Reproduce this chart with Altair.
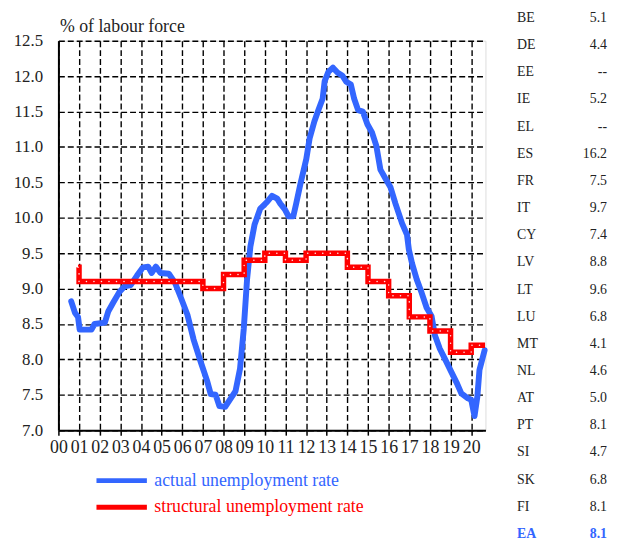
import altair as alt
import pandas as pd

# ---- data (x = years since 2000, ticks labelled 00..20)
act_t = [0.62, 0.80, 0.95, 1.03, 1.60, 1.75, 2.25, 2.42, 2.65, 2.95, 3.20, 3.50, 3.80, 4.10,
         4.35, 4.52, 4.72, 4.95, 5.35, 5.65, 5.95, 6.25, 6.55, 6.90, 7.20, 7.38, 7.62, 7.80,
         8.08, 8.35, 8.58, 8.80, 8.98, 9.14, 9.30, 9.50, 9.78, 10.10, 10.35, 10.60, 10.75,
         10.97, 11.15, 11.38, 11.52, 11.72, 12.01, 12.17, 12.40, 12.57, 12.80, 12.90, 13.08,
         13.30, 13.52, 13.75, 13.95, 14.17, 14.33, 14.52, 14.75, 14.97, 15.20, 15.40, 15.60,
         15.85, 16.09, 16.33, 16.65, 16.89, 16.98, 17.13, 17.36, 17.60, 17.84, 18.08, 18.24,
         18.48, 18.72, 19.04, 19.28, 19.52, 19.84, 20.00, 20.16, 20.30, 20.40, 20.65]
act_v = [8.82, 8.66, 8.60, 8.42, 8.42, 8.50, 8.52, 8.68, 8.80, 8.95, 9.03, 9.05, 9.18, 9.30,
         9.31, 9.22, 9.31, 9.22, 9.21, 9.08, 8.86, 8.63, 8.28, 7.96, 7.70, 7.51, 7.50, 7.34,
         7.33, 7.45, 7.55, 7.87, 8.43, 9.13, 9.59, 9.90, 10.13, 10.22, 10.31, 10.27, 10.20,
         10.12, 10.02, 10.02, 10.20, 10.47, 10.83, 11.12, 11.36, 11.50, 11.68, 11.93, 12.06,
         12.12, 12.05, 12.01, 11.92, 11.88, 11.68, 11.52, 11.50, 11.32, 11.20, 11.02, 10.68,
         10.55, 10.43, 10.20, 9.92, 9.76, 9.55, 9.36, 9.13, 8.94, 8.73, 8.61, 8.34,
         8.15, 8.01, 7.82, 7.68, 7.52, 7.45, 7.43, 7.20, 7.48, 7.85, 8.13]

str_t = [0.95, 1, 2, 3, 4, 5, 6, 7, 8, 9, 10, 11, 12, 13, 14, 15, 16, 17, 18, 19, 20, 20.67]
str_v = [9.3, 9.1, 9.1, 9.1, 9.1, 9.1, 9.1, 9.0, 9.2, 9.4, 9.5, 9.4, 9.5, 9.5, 9.3, 9.1,
         8.9, 8.6, 8.4, 8.1, 8.2, 8.2]

countries = ["BE", "DE", "EE", "IE", "EL", "ES", "FR", "IT", "CY", "LV",
             "LT", "LU", "MT", "NL", "AT", "PT", "SI", "SK", "FI", "EA"]
rates = ["5.1", "4.4", "--", "5.2", "--", "16.2", "7.5", "9.7", "7.4", "8.8",
         "9.6", "6.8", "4.1", "4.6", "5.0", "8.1", "4.7", "6.8", "8.1", "8.1"]

year_ticks = list(range(0, 21))
y_ticks = [7.0, 7.5, 8.0, 8.5, 9.0, 9.5, 10.0, 10.5, 11.0, 11.5, 12.0, 12.5]
series_names = ["actual unemployment rate", "structural unemployment rate"]

FONT = "Liberation Serif"
BLUE = "#3366ff"
RED = "#ff0000"
INK = "#222222"

actual = pd.DataFrame({"t": act_t, "v": act_v, "series": series_names[0]})
struct = pd.DataFrame({"t": str_t, "v": str_v, "series": series_names[1]})
table = pd.DataFrame({"code": countries, "rate": rates})

x_scale = alt.Scale(domain=[0, 20.69], nice=False, zero=False)
y_scale = alt.Scale(domain=[7, 12.5], nice=False, zero=False)
color_scale = alt.Scale(domain=series_names, range=[BLUE, RED])

x_axis = alt.Axis(
    values=year_ticks, title=None, tickCount=21,
    labelExpr="datum.value < 10 ? '0' + datum.value : '' + datum.value",
    grid=True, gridColor="black", gridDash=[6, 3], gridWidth=1.4,
    domainColor="black", domainWidth=2, tickColor="black", tickWidth=1.5, tickSize=5,
    labelFont=FONT, labelFontSize=18, labelColor=INK, labelPadding=4,
    labelFlush=False, labelOverlap=False)

y_axis = alt.Axis(
    values=y_ticks, format=".1f", title="% of labour force", tickCount=12,
    titleAngle=0, titleAlign="left", titleX=1, titleY=-9, titleBaseline="alphabetic",
    titleFont=FONT, titleFontSize=18, titleFontWeight="normal", titleColor=INK,
    grid=True, gridColor="black", gridDash=[6, 3], gridWidth=1.4,
    ticks=False, tickSize=0, labelPadding=16, labelOverlap=False,
    domainColor="black", domainWidth=2,
    labelFont=FONT, labelFontSize=17, labelColor=INK)


def xe():
    return alt.X("t:Q", scale=x_scale, axis=x_axis)


def ye():
    return alt.Y("v:Q", scale=y_scale, axis=y_axis)


legend = alt.Legend(
    title=None, orient="none", legendX=36, legendY=435, direction="vertical",
    symbolType="stroke", symbolSize=2601, symbolStrokeWidth=5, symbolOpacity=1,
    clipHeight=20, rowPadding=7, padding=0, labelOffset=5, labelLimit=400,
    labelFont=FONT, labelFontSize=18,
    labelColor=alt.ExprRef(expr="datum.label == 'actual unemployment rate' ? '#3366ff' : '#ff0000'"))

blue = alt.Chart(actual).mark_line(strokeWidth=6, strokeJoin="round", strokeCap="round").encode(
    x=xe(), y=ye(),
    color=alt.Color("series:N", scale=color_scale, legend=legend))

red = alt.Chart(struct).mark_line(strokeWidth=5.5, interpolate="step-after").encode(
    x=xe(), y=ye(),
    color=alt.Color("series:N", scale=color_scale, legend=legend))

dots = alt.Chart(struct).mark_line(strokeWidth=1.5, interpolate="step-after", color="white",
                                   strokeDash=[0.1, 7.5], strokeCap="round", opacity=0.9).encode(
    x=xe(), y=ye())

main = alt.layer(blue, red, dots)

row_scale = alt.Scale(domain=countries, range=[-23, 499], padding=0)

codes = alt.Chart(table).transform_filter("datum.code != 'EA'").mark_text(
    align="left", baseline="middle", font=FONT, fontSize=14, color=INK).encode(
    x=alt.value(464), y=alt.Y("code:N", scale=row_scale, axis=None), text="code:N")
vals = alt.Chart(table).transform_filter("datum.code != 'EA'").mark_text(
    align="right", baseline="middle", font=FONT, fontSize=14, color=INK).encode(
    x=alt.value(555), y=alt.Y("code:N", scale=row_scale, axis=None), text="rate:N")
ea_code = alt.Chart(table).transform_filter("datum.code == 'EA'").mark_text(
    align="left", baseline="middle", font=FONT, fontSize=14, fontWeight="bold", color=BLUE).encode(
    x=alt.value(464), y=alt.Y("code:N", scale=row_scale, axis=None), text="code:N")
ea_val = alt.Chart(table).transform_filter("datum.code == 'EA'").mark_text(
    align="right", baseline="middle", font=FONT, fontSize=14, fontWeight="bold", color=BLUE).encode(
    x=alt.value(555), y=alt.Y("code:N", scale=row_scale, axis=None), text="rate:N")

chart = alt.layer(main, codes, vals, ea_code, ea_val).resolve_scale(
    y="independent"
).properties(
    width=432, height=394,
    autosize=alt.AutoSizeParams(type="none"),
    padding={"left": 51, "top": 30, "right": 126, "bottom": 112},
    background="white",
).configure_view(
    stroke="transparent"
).configure(
    font=FONT
).configure_axis(
    labelFont=FONT, titleFont=FONT
).configure_legend(
    labelFont=FONT, titleFont=FONT
).configure_text(
    font=FONT
)

chart.save("out.html", embed_options={"renderer": "svg", "actions": False})
